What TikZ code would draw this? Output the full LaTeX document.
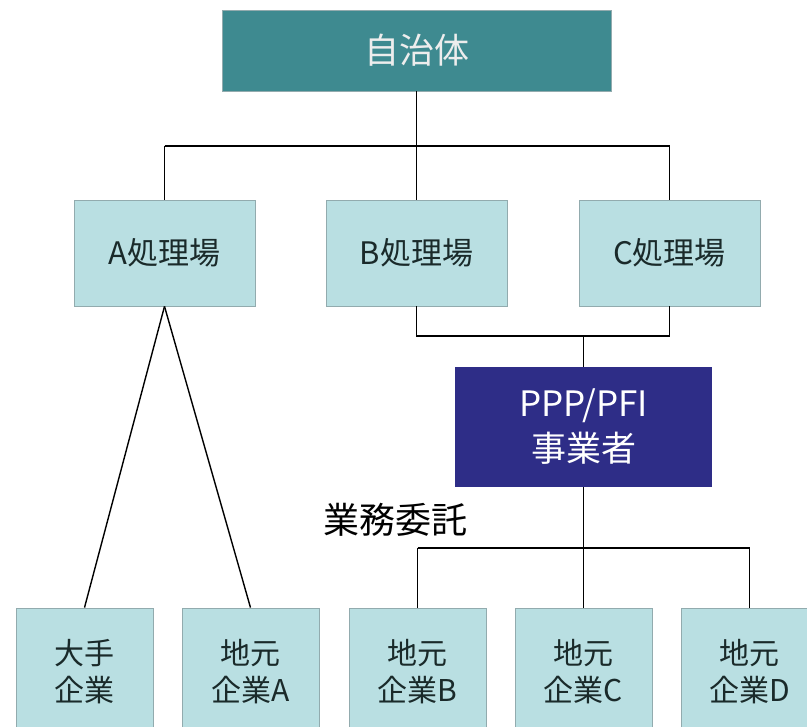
\documentclass[tikz,border=0pt]{standalone}
\usepackage{fontspec}
\setmainfont{Noto Sans CJK JP}
\definecolor{teal1}{HTML}{3E8A90}
\definecolor{lightbox}{HTML}{B9DFE2}
\definecolor{navy1}{HTML}{2E2D87}
\definecolor{edgegrey}{HTML}{92ABAE}
\definecolor{textdark}{HTML}{1A2A2A}
\begin{document}
\begin{tikzpicture}[x=1pt,y=-1pt,
  topbox/.style={draw=edgegrey,line width=0.8pt,fill=teal1,text=white!93!black,minimum width=389pt,minimum height=81pt,inner sep=0pt,font=\fontsize{35}{40}\selectfont},
  plantbox/.style={draw=edgegrey,line width=0.8pt,fill=lightbox,text=textdark,minimum width=181pt,minimum height=106pt,inner sep=0pt,font=\fontsize{31}{36}\selectfont},
  pppbox/.style={fill=navy1,text=white,minimum width=257pt,minimum height=120pt,inner sep=0pt,align=center,font=\fontsize{35}{45}\selectfont},
  firmbox/.style={draw=edgegrey,line width=0.8pt,fill=lightbox,text=textdark,minimum width=137pt,minimum height=128pt,inner sep=0pt,align=center,font=\fontsize{30}{37}\selectfont},
  conn/.style={line width=1.4pt,black}]
\useasboundingbox (0,0) rectangle (807,727);
\fill[white] (0,0) rectangle (807,727);
\begin{scope}
\clip (0,0) rectangle (807,727);
\node[topbox] (gov) at (416.5,50.5) {自治体};
\node[plantbox] (pa) at (164.5,253) {A処理場};
\node[plantbox] (pb) at (416.5,253) {B処理場};
\node[plantbox] (pc) at (669.5,253) {C処理場};
\node[pppbox] (ppp) at (583.5,427) {PPP/PFI\\事業者};
\node[firmbox] (f0) at (84.5,672) {大手\\企業};
\node[firmbox] (f1) at (250.5,672) {地元\\企業A};
\node[firmbox] (f2) at (417.5,672) {地元\\企業B};
\node[firmbox] (f3) at (583.5,672) {地元\\企業C};
\node[firmbox] (f4) at (749.5,672) {地元\\企業D};
\node[font=\fontsize{36}{40}\selectfont,text=black] (lbl) at (395,520) {業務委託};
\coordinate (j1) at (416.5,146);
\coordinate (j2) at (583.5,336);
\coordinate (j3) at (583.5,548);
\draw[conn] (gov.south) -- (j1);
\draw[conn] (j1 -| pa.north) -- (j1 -| pc.north);
\draw[conn] (j1 -| pa.north) -- (pa.north);
\draw[conn] (j1) -- (pb.north);
\draw[conn] (j1 -| pc.north) -- (pc.north);
\draw[conn] (pb.south) -- (pb.south |- j2) -- (pc.south |- j2) -- (pc.south);
\draw[conn] (j2) -- (ppp.north);
\draw[conn] (ppp.south) -- (j3);
\draw[conn] (j3 -| f2.north) -- (j3 -| f4.north);
\draw[conn] (j3 -| f2.north) -- (f2.north);
\draw[conn] (j3) -- (f3.north);
\draw[conn] (j3 -| f4.north) -- (f4.north);
\draw[conn] (pa.south) -- (f0.north);
\draw[conn] (pa.south) -- (f1.north);
\end{scope}
\end{tikzpicture}
\end{document}
